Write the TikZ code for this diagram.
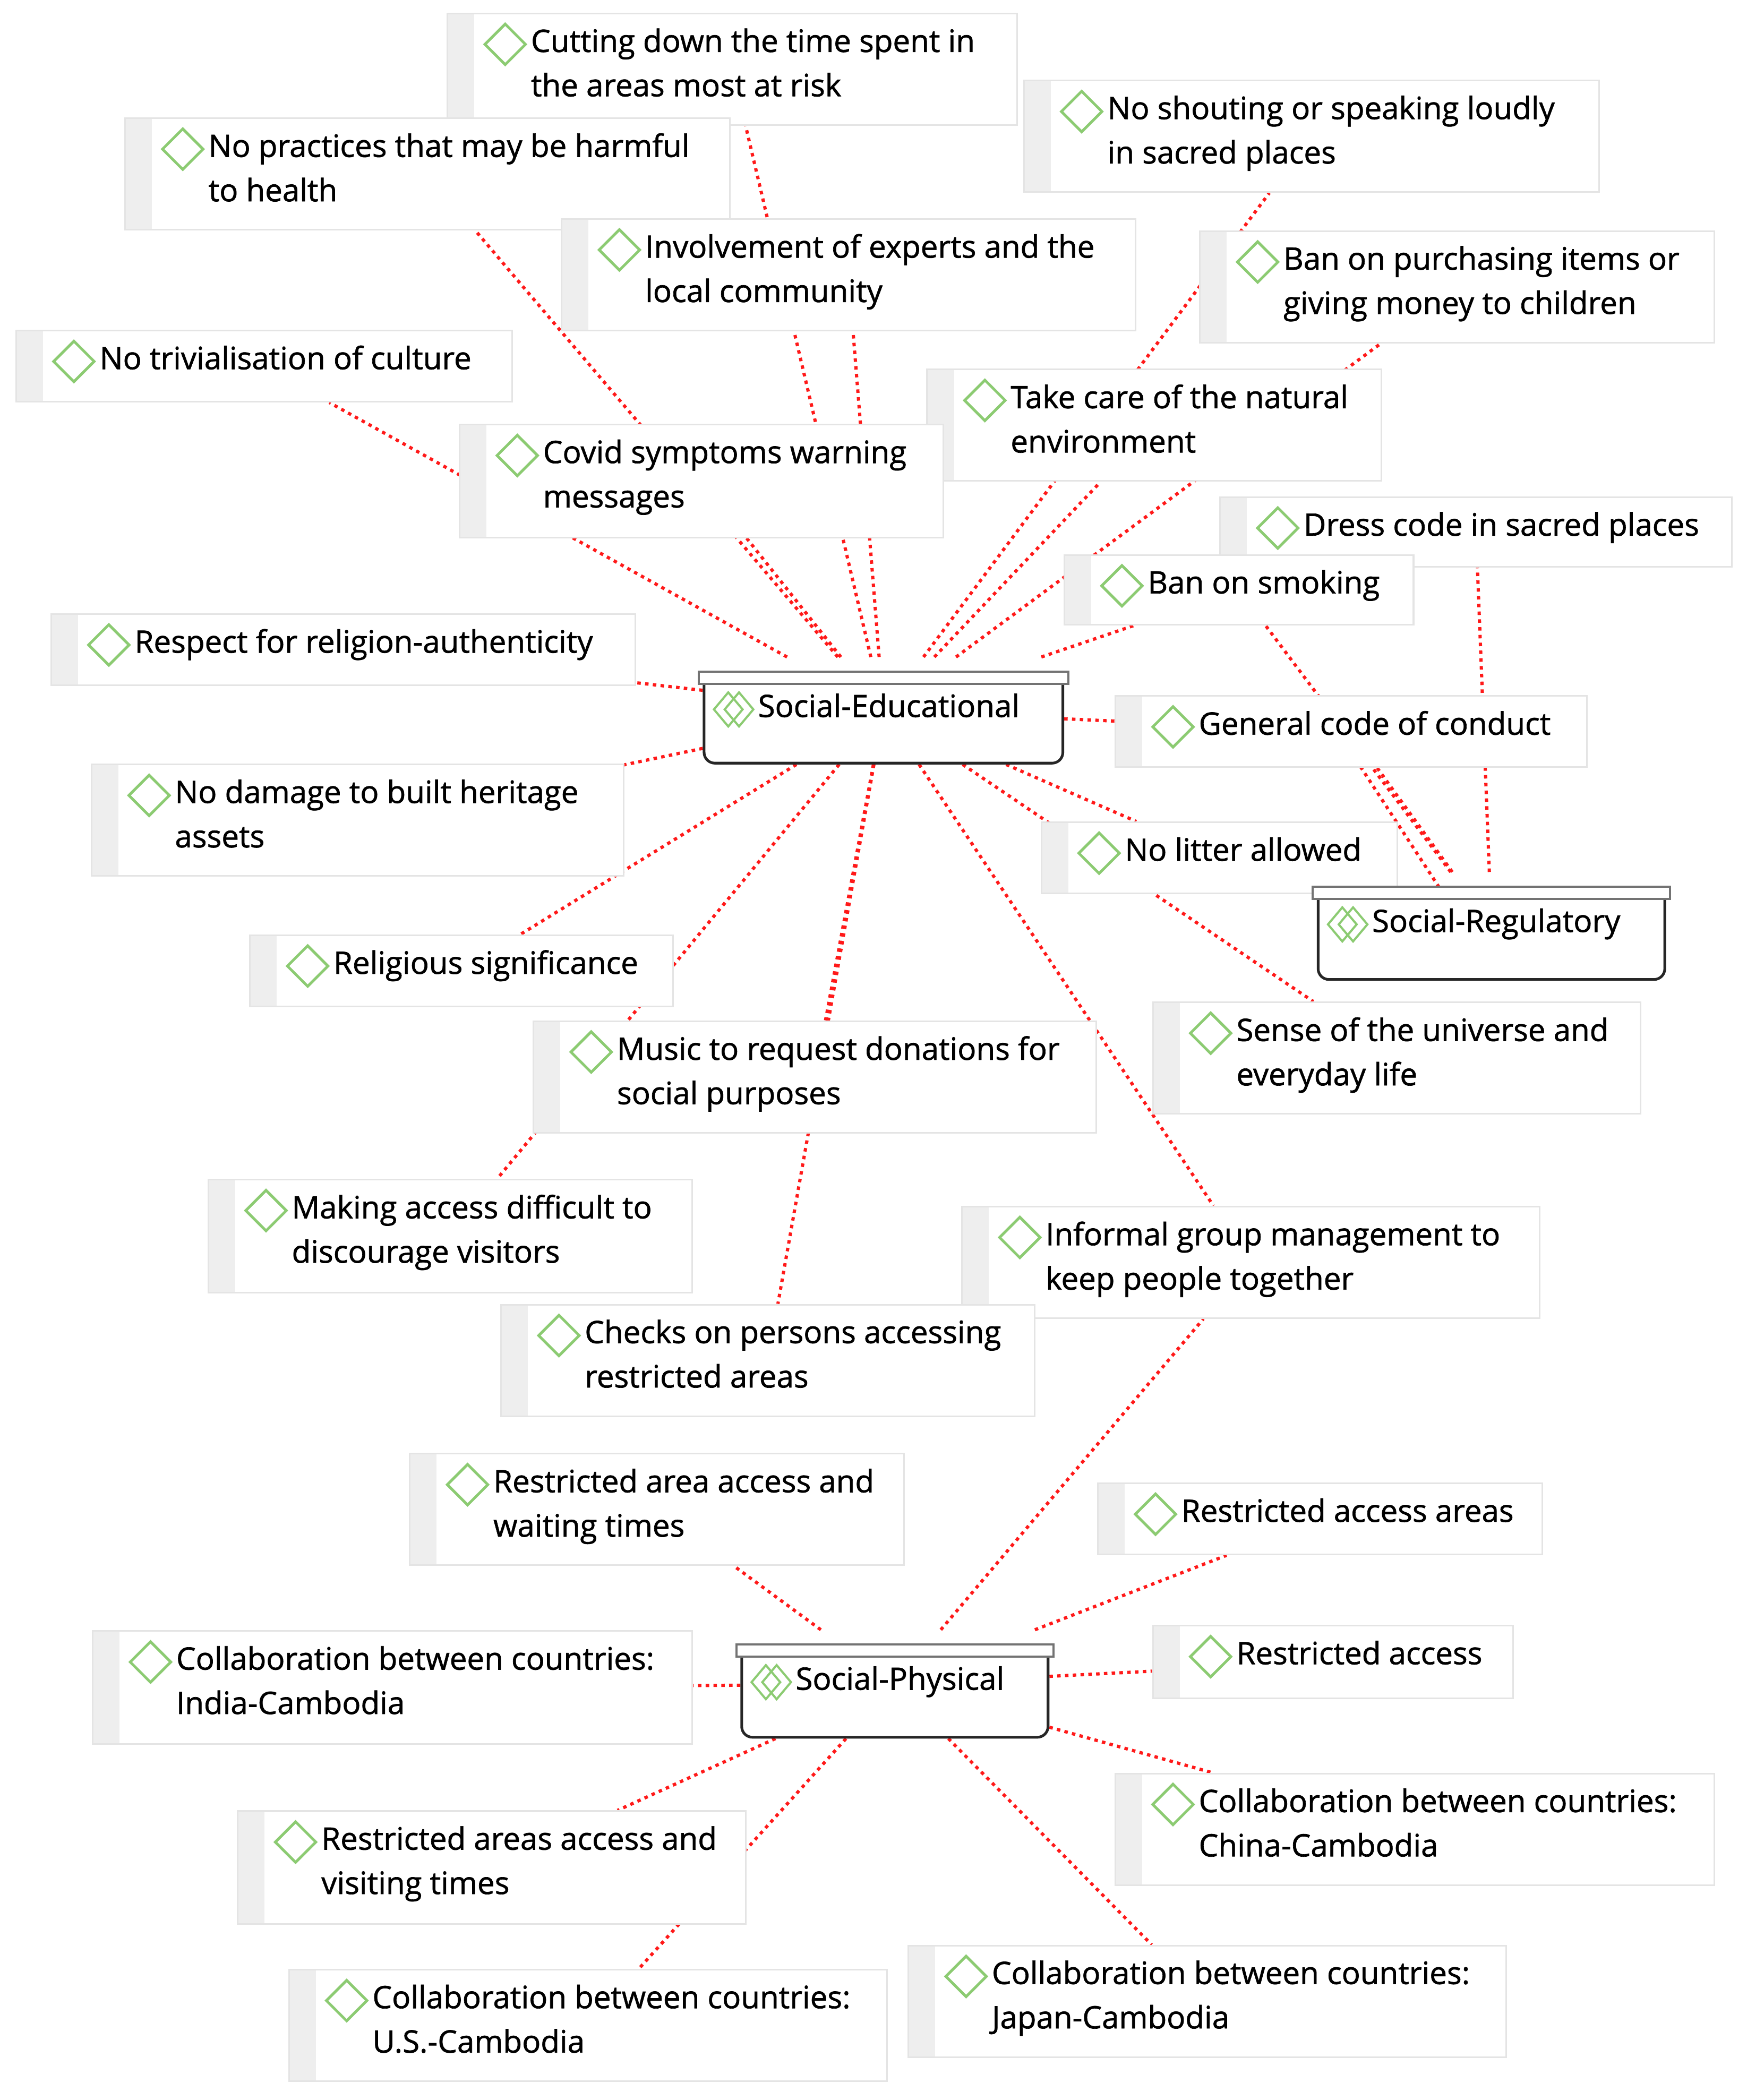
\documentclass[tikz,border=0pt]{standalone}
\usepackage{fontspec}
\setmainfont{Open Sans}[FakeBold=1.2]
\usetikzlibrary{fit,shapes.geometric}
\pgfdeclarelayer{bg}
\pgfsetlayers{bg,main}
\definecolor{lgreen}{HTML}{8CCB72}
\definecolor{lgray}{HTML}{EEEEEE}
\definecolor{bgray}{HTML}{E4E4E4}
\tikzset{
  leafbox/.style={draw=bgray,line width=1.2pt,fill=white,inner sep=0pt},
  diam/.style={diamond,draw=lgreen,line width=2pt,minimum width=31pt,minimum height=31pt,inner sep=0pt},
  ltext/.style={anchor=north west,align=left,inner sep=0pt,font=\fontsize{23}{33}\selectfont},
  link/.style={red!90!white,line width=2.4pt,dash pattern=on 2.6pt off 3.2pt},
  hubbox/.style={draw=black!85,line width=2pt,fill=white,inner sep=0pt,rounded corners=8pt},
}
\newcommand{\leaf}[6]{%
  \node[leafbox,fit={(#2,#3)(#4,#5)}] (#1) {};
  \fill[lgray] (#2+0.6,#3+0.6) rectangle (#2+20,#5-0.6);
  \node[diam] at (#2+43,#3+23) {};
  \node[ltext] at (#2+62,#3+11) {#6};
}
\newcommand{\hub}[6]{%
  \begin{scope}
  \clip (#2-2,#3+8) rectangle (#4+2,#5+3);
  \node[hubbox,fit={(#2+4,#3-10)(#4-4,#5)}] (#1) {};
  \end{scope}
  \draw[draw=black!55,line width=1.6pt,fill=white] (#2,#3) rectangle (#4,#3+9);
  \node[diam,minimum width=22pt,minimum height=26pt,line width=1.6pt] at (#2+22,#3+28) {};
  \node[diam,minimum width=22pt,minimum height=26pt,line width=1.6pt] at (#2+30,#3+28) {};
  \node[ltext] at (#2+44,#3+16) {#6};
}
\begin{document}
\begin{tikzpicture}[x=1pt,y=-1pt]
\useasboundingbox (0,0) rectangle (1300,1563);
% leaves
\leaf{cut}{333}{10}{757}{93}{Cutting down the time spent in\\the areas most at risk}
\leaf{noprac}{93}{88}{543}{171}{No practices that may be harmful\\to health}
\leaf{noshout}{762}{60}{1190}{143}{No shouting or speaking loudly\\in sacred places}
\leaf{involve}{418}{163}{845}{246}{Involvement of experts and the\\local community}
\leaf{ban}{893}{172}{1276}{255}{Ban on purchasing items or\\giving money to children}
\leaf{notriv}{12}{246}{381}{299}{No trivialisation of culture}
\leaf{take}{690}{275}{1028}{358}{Take care of the natural\\environment}
\leaf{covid}{342}{316}{702}{400}{Covid symptoms warning\\messages}
\leaf{dress}{908}{370}{1289}{422}{Dress code in sacred places}
\leaf{smoking}{792}{413}{1052}{465}{Ban on smoking}
\leaf{respect}{38}{457}{473}{510}{Respect for religion-authenticity}
\leaf{general}{830}{518}{1181}{571}{General code of conduct}
\leaf{nodamage}{68}{569}{464}{652}{No damage to built heritage\\assets}
\leaf{litter}{775}{612}{1040}{665}{No litter allowed}
\leaf{religious}{186}{696}{501}{749}{Religious significance}
\leaf{sense}{858}{746}{1221}{829}{Sense of the universe and\\everyday life}
\leaf{music}{397}{760}{816}{843}{Music to request donations for\\social purposes}
\leaf{making}{155}{878}{515}{962}{Making access difficult to\\discourage visitors}
\leaf{informal}{716}{898}{1146}{981}{Informal group management to\\keep people together}
\leaf{checks}{373}{971}{770}{1054}{Checks on persons accessing\\restricted areas}
\leaf{rawait}{305}{1082}{673}{1165}{Restricted area access and\\waiting times}
\leaf{raareas}{817}{1104}{1148}{1157}{Restricted access areas}
\leaf{india}{69}{1214}{515}{1298}{Collaboration between countries:\\India-Cambodia}
\leaf{raccess}{858}{1210}{1126}{1264}{Restricted access}
\leaf{china}{830}{1320}{1276}{1403}{Collaboration between countries:\\China-Cambodia}
\leaf{visiting}{177}{1348}{555}{1432}{Restricted areas access and\\visiting times}
\leaf{japan}{676}{1448}{1121}{1531}{Collaboration between countries:\\Japan-Cambodia}
\leaf{us}{215}{1466}{660}{1549}{Collaboration between countries:\\U.S.-Cambodia}
% hubs
\hub{soced}{520}{500}{795}{568}{Social-Educational}
\hub{socreg}{977}{660}{1243}{729}{Social-Regulatory}
\hub{socphys}{548}{1224}{784}{1293}{Social-Physical}
\begin{pgfonlayer}{bg}
\fill[white] (0,0) rectangle (1300,1563);
\foreach \n in {cut,noprac,noshout,involve,ban,notriv,take,covid,smoking,respect,general,nodamage,litter,religious,sense,music,making,informal,checks}
  \draw[link] (soced) -- (\n);
\foreach \n in {dress,smoking,general}
  \draw[link] (socreg) -- (\n);
\draw[link] ([xshift=-20pt]socreg.center) -- ([xshift=-10pt]general.center);
\foreach \n in {informal,rawait,raareas,india,raccess,china,visiting,us,japan}
  \draw[link] (socphys) -- (\n);
\end{pgfonlayer}
\end{tikzpicture}
\end{document}
